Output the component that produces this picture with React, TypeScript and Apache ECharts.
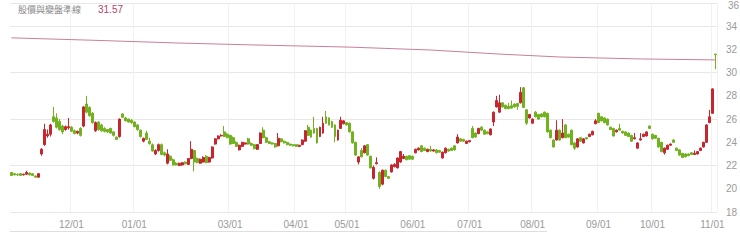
import React, { useEffect, useRef } from "react";
import * as echarts from "echarts";

// trading days per month (year-month, day numbers)
const monthDays: [string, number[]][] = [
  ["2022-11", [3, 4, 7, 8, 9, 10, 11, 14, 15, 16, 17, 18, 21, 22, 23, 24, 25, 28, 29, 30]],
  ["2022-12", [1, 2, 5, 6, 7, 8, 9, 12, 13, 14, 15, 16, 19, 20, 21, 22, 23, 26, 27, 28, 29]],
  ["2023-01", [3, 4, 5, 6, 9, 10, 11, 12, 13, 16, 17, 18, 30, 31]],
  ["2023-02", [1, 2, 3, 6, 7, 8, 9, 10, 13, 14, 15, 16, 17, 20, 21, 22, 23, 24]],
  ["2023-03", [1, 2, 3, 6, 7, 8, 9, 10, 13, 14, 15, 16, 17, 20, 21, 22, 23, 24, 27, 28, 29, 30]],
  ["2023-04", [6, 7, 10, 11, 12, 13, 14, 17, 18, 19, 20, 21, 24, 25, 26, 27, 28]],
  ["2023-05", [2, 3, 4, 5, 8, 9, 10, 11, 12, 15, 16, 17, 18, 19, 22, 23, 24, 25, 26, 29, 30, 31]],
  ["2023-06", [1, 2, 5, 6, 7, 8, 9, 12, 13, 14, 15, 16, 19, 20, 21, 26, 27, 28, 29]],
  ["2023-07", [3, 4, 5, 6, 7, 10, 11, 12, 13, 14, 17, 18, 19, 20, 21, 24, 25, 26, 27, 28, 31]],
  ["2023-08", [1, 2, 4, 7, 8, 9, 10, 11, 14, 15, 16, 17, 18, 21, 22, 23, 24, 25, 28, 29, 30, 31]],
  ["2023-09", [1, 4, 5, 6, 7, 8, 11, 12, 13, 14, 15, 18, 19, 20, 21, 22, 25, 26]],
  ["2023-10", [2, 3, 4, 5, 6, 11, 12, 13, 16, 17, 18, 19, 20, 23, 24, 25, 26, 27, 30, 31]],
  ["2023-11", [1, 2]],
];

const categories: string[] = [];
monthDays.forEach(([ym, days]) =>
  days.forEach((d) => categories.push(`${ym}-${String(d).padStart(2, "0")}`))
);

// [open, close, low, high]
const priceCandles: number[][] = [
  [21.4, 21.15, 21.1, 21.45], [21.3, 21.2, 21.15, 21.35], [21.25, 21.2, 21.1, 21.3], [21.3, 21.15, 21.1, 21.35],
  [21.2, 21.25, 21.15, 21.3], [21.25, 21.4, 21.2, 21.55], [21.35, 21.2, 21.15, 21.4], [21.3, 21.15, 21.1, 21.3],
  [21.1, 21.0, 20.95, 21.15], [21.0, 21.3, 20.95, 21.35], [23.0, 23.4, 22.85, 23.5], [23.8, 25.1, 23.7, 25.6],
  [24.55, 24.7, 24.4, 25.1], [24.7, 25.5, 24.5, 25.6], [26.2, 25.8, 25.7, 27.05], [26.1, 25.3, 25.2, 26.5],
  [25.8, 25.1, 25.0, 26.0], [25.4, 24.9, 24.7, 25.5], [25.1, 25.35, 25.0, 25.45], [25.25, 25.35, 25.1, 26.1],
  [25.3, 24.95, 24.9, 25.4], [25.0, 24.75, 24.7, 25.1], [24.8, 24.95, 24.7, 25.0], [25.2, 24.6, 24.5, 25.3],
  [25.4, 27.05, 25.3, 27.1], [27.3, 26.6, 26.5, 28.0], [27.0, 26.3, 26.2, 27.1], [26.5, 25.7, 25.6, 26.6],
  [25.0, 25.7, 24.9, 25.8], [25.75, 25.1, 25.0, 25.8], [25.5, 25.0, 24.9, 25.6], [25.2, 24.95, 24.85, 25.3],
  [25.1, 24.9, 24.8, 25.15], [25.2, 24.8, 24.75, 25.25], [24.9, 24.6, 24.5, 24.95], [24.45, 24.25, 24.2, 24.5],
  [24.5, 26.0, 24.4, 26.05], [26.45, 26.15, 26.1, 26.5], [26.1, 25.85, 25.8, 26.2], [26.0, 25.75, 25.7, 26.05],
  [25.9, 25.7, 25.6, 26.0], [25.75, 25.35, 25.3, 25.8], [25.5, 25.1, 25.0, 25.55], [25.05, 24.5, 24.4, 25.1],
  [24.1, 24.35, 24.0, 24.4], [24.8, 24.25, 24.2, 25.0], [24.1, 23.9, 23.8, 24.4], [23.8, 23.25, 23.2, 23.9],
  [23.0, 23.3, 22.9, 23.4], [23.3, 23.8, 23.2, 23.9], [23.8, 22.95, 22.9, 23.9], [23.1, 22.9, 22.8, 23.2],
  [22.2, 23.0, 22.1, 23.4], [22.8, 22.45, 22.4, 22.9], [22.5, 22.05, 22.0, 22.6], [22.2, 22.05, 22.0, 22.3],
  [22.0, 22.2, 21.95, 22.25], [22.05, 22.25, 22.0, 22.3], [22.3, 22.15, 22.1, 22.35], [22.1, 22.6, 22.05, 22.65],
  [22.6, 23.4, 22.55, 24.1], [23.3, 22.3, 21.5, 23.35], [22.6, 22.25, 22.2, 22.7], [22.2, 22.55, 22.15, 22.6],
  [22.3, 22.7, 22.25, 22.8], [22.8, 22.25, 22.2, 22.9], [22.3, 22.7, 22.25, 22.75], [22.65, 23.6, 22.6, 23.65],
  [23.85, 24.3, 23.8, 24.35], [24.3, 24.55, 24.25, 24.6], [24.55, 24.6, 24.5, 24.7], [24.9, 24.5, 24.45, 25.4],
  [24.7, 24.4, 24.35, 24.8], [24.6, 23.85, 23.8, 24.65], [24.4, 23.9, 23.85, 24.5], [24.0, 23.65, 23.6, 24.1],
  [23.35, 23.75, 23.3, 23.8], [23.65, 24.0, 23.6, 24.05], [23.85, 23.95, 23.8, 24.0], [24.3, 23.85, 23.8, 24.4],
  [23.9, 23.75, 23.7, 24.0], [23.8, 23.45, 23.4, 23.85], [23.4, 23.8, 23.35, 23.85], [23.9, 24.8, 23.85, 24.85],
  [25.05, 24.4, 24.35, 25.3], [24.4, 24.0, 23.95, 24.5], [24.05, 23.9, 23.85, 24.1], [23.95, 23.85, 23.8, 24.0],
  [23.9, 23.6, 23.55, 23.95], [23.7, 24.35, 23.65, 24.8], [24.3, 24.05, 24.0, 24.35], [24.1, 23.95, 23.9, 24.15],
  [24.0, 23.8, 23.75, 24.05], [23.85, 23.75, 23.7, 23.9], [23.8, 23.7, 23.65, 23.85], [23.8, 23.65, 23.6, 23.85],
  [23.65, 23.75, 23.6, 23.8], [23.8, 24.2, 23.75, 24.25], [24.1, 25.0, 24.05, 25.05], [25.3, 24.6, 24.55, 25.5],
  [25.05, 24.45, 24.4, 25.1], [25.2, 24.8, 24.75, 26.2], [25.2, 23.95, 23.9, 25.25], [24.5, 25.3, 24.45, 25.35],
  [24.8, 25.65, 24.75, 26.2], [26.2, 25.65, 25.6, 26.7], [26.1, 25.5, 25.45, 26.15], [25.8, 25.3, 25.25, 25.85],
  [25.5, 24.5, 24.0, 25.55], [24.2, 25.05, 24.15, 25.1], [25.2, 25.9, 25.15, 26.2], [25.6, 25.85, 25.55, 25.9],
  [25.7, 25.5, 25.45, 25.75], [25.65, 24.9, 24.85, 25.7], [24.9, 23.95, 23.9, 24.95], [24.0, 22.9, 22.85, 24.05],
  [22.3, 22.75, 22.1, 22.8], [23.3, 22.75, 22.7, 23.5], [23.1, 23.7, 23.05, 23.75], [23.8, 22.9, 22.85, 23.85],
  [22.8, 21.8, 21.75, 22.85], [20.9, 21.85, 20.8, 22.0], [22.15, 22.25, 22.1, 22.7], [21.4, 20.2, 20.0, 21.5],
  [20.4, 21.6, 20.3, 21.65], [21.6, 21.05, 21.0, 21.65], [21.05, 20.9, 20.85, 21.1], [21.45, 22.05, 21.4, 22.1],
  [21.9, 22.1, 21.85, 22.2], [21.8, 22.65, 21.75, 22.7], [22.3, 23.2, 22.25, 23.25], [22.6, 22.8, 22.55, 23.0],
  [22.8, 22.5, 22.45, 22.85], [22.85, 22.55, 22.5, 22.9], [22.8, 22.55, 22.5, 22.85], [23.1, 23.4, 23.05, 23.45],
  [23.35, 23.5, 23.3, 23.55], [23.7, 23.2, 23.15, 23.75], [23.5, 23.3, 23.25, 23.55], [23.2, 23.4, 23.15, 23.45],
  [23.4, 23.25, 23.2, 23.7], [23.25, 23.35, 23.2, 23.4], [23.35, 23.1, 23.05, 23.4], [23.3, 23.15, 23.1, 23.35],
  [22.65, 23.15, 22.6, 23.2], [23.1, 23.5, 23.05, 23.55], [23.4, 23.25, 23.2, 23.45], [23.5, 23.3, 23.25, 23.55],
  [23.7, 23.35, 23.3, 23.75], [23.95, 24.45, 23.9, 24.7], [24.3, 24.1, 24.05, 24.35], [24.25, 24.1, 24.05, 24.3],
  [23.9, 24.1, 23.85, 24.15], [24.05, 24.15, 24.0, 24.2], [25.2, 24.4, 24.35, 25.4], [24.8, 24.45, 24.4, 24.85],
  [24.75, 25.2, 24.7, 25.25], [25.3, 25.05, 25.0, 25.4], [25.05, 24.7, 24.65, 25.1], [24.9, 24.75, 24.7, 24.95],
  [24.65, 25.15, 24.6, 25.2], [25.75, 26.6, 25.4, 26.65], [27.05, 27.6, 27.0, 28.0], [26.6, 27.4, 26.55, 28.1],
  [27.4, 27.05, 27.0, 27.45], [27.2, 26.9, 26.85, 27.25], [27.1, 26.9, 26.85, 27.4], [27.15, 26.95, 26.9, 27.6],
  [27.3, 27.05, 27.0, 27.35], [27.35, 27.1, 26.8, 27.4], [27.4, 28.3, 27.35, 28.75], [28.7, 27.0, 26.95, 28.75],
  [26.8, 25.65, 25.5, 26.85], [26.1, 26.4, 26.05, 26.45], [25.65, 26.0, 25.6, 26.05], [26.6, 26.2, 26.15, 26.7],
  [26.4, 26.0, 25.95, 26.45], [26.45, 26.2, 26.15, 26.5], [26.6, 26.2, 26.15, 26.65], [26.5, 24.9, 24.85, 26.55],
  [25.05, 24.4, 24.35, 25.1], [24.2, 23.6, 23.55, 24.25], [24.2, 25.05, 24.15, 25.9], [25.05, 24.2, 24.15, 25.1],
  [24.4, 24.8, 24.35, 26.0], [25.5, 24.4, 24.35, 25.55], [24.7, 24.45, 24.4, 24.75], [25.05, 23.8, 23.75, 25.1],
  [23.95, 23.5, 23.35, 24.0], [23.6, 24.3, 23.55, 24.35], [24.4, 24.1, 24.05, 24.45], [23.95, 24.3, 23.9, 24.35],
  [24.4, 24.3, 24.25, 24.45], [24.5, 24.7, 24.45, 24.75], [24.65, 24.95, 24.6, 25.0], [25.6, 25.85, 25.55, 26.0],
  [26.5, 25.7, 25.65, 26.55], [26.2, 25.85, 25.8, 26.25], [26.1, 25.7, 25.65, 26.15], [26.0, 25.5, 25.45, 26.05],
  [25.3, 25.1, 25.05, 25.35], [25.2, 24.55, 24.5, 25.25], [24.9, 25.05, 24.85, 25.1], [25.2, 25.05, 25.0, 25.6],
  [24.95, 24.8, 24.75, 25.0], [24.9, 24.6, 24.55, 24.95], [24.8, 24.5, 24.45, 24.85], [24.6, 24.1, 24.05, 24.65],
  [24.3, 24.4, 24.25, 24.8], [23.5, 23.95, 23.45, 24.0], [24.2, 24.3, 24.15, 24.8], [24.5, 24.7, 24.45, 24.75],
  [24.55, 24.9, 24.5, 24.95], [25.4, 25.2, 25.15, 25.45], [24.7, 24.3, 24.25, 24.75], [24.6, 24.35, 24.3, 24.65],
  [24.35, 23.6, 23.55, 24.4], [24.0, 23.2, 23.15, 24.05], [23.1, 23.5, 22.95, 23.55], [23.4, 23.75, 23.35, 23.8],
  [23.75, 23.85, 23.7, 23.9], [24.2, 24.0, 23.95, 24.25], [23.5, 23.3, 23.25, 23.55], [23.35, 22.9, 22.85, 23.4],
  [23.05, 22.7, 22.65, 23.1], [23.0, 22.75, 22.7, 23.05], [23.0, 22.85, 22.8, 23.05], [23.1, 22.95, 22.9, 23.15],
  [22.95, 23.05, 22.9, 23.3], [23.0, 23.2, 22.95, 23.25], [23.3, 23.5, 23.25, 23.55], [23.6, 24.0, 23.55, 24.05],
  [24.0, 25.5, 23.95, 25.55], [25.7, 26.2, 25.65, 26.8], [26.5, 28.6, 26.45, 28.65],
];

// trend line points: [category index, value]
const trendPoints: [number, number][] = [
  [0, 33.0], [26, 32.8], [56, 32.55], [79, 32.4], [113, 32.2], [140, 31.95],
  [163, 31.6], [183, 31.35], [210, 31.18], [235, 31.1],
];

// last mark of the trend series: [category index, open, close, low, high]
const trendMark: number[][] = [[235, 31.6, 31.55, 30.3, 31.6]];

const titleText = "股價與變盤準線";
const titleValue = "31.57";

const yTicks = { min: 18, max: 36, labelStep: 2, lineStep: 4 };

const RED = "#c6262e";
const GREEN = "#72b11f";

export default function App() {
  const ref = useRef<HTMLDivElement>(null);

  useEffect(() => {
    document.body.style.margin = "0";
    if (!ref.current) return;
    const chart = echarts.init(ref.current, undefined, { renderer: "svg" });

    const monthStart = new Set<number>();
    let prev = categories[0].slice(0, 7);
    categories.forEach((c, i) => {
      const m = c.slice(0, 7);
      if (m !== prev) {
        if (c.slice(5, 7) !== "02") monthStart.add(i);
        prev = m;
      }
    });

    const font = "'Liberation Sans', Arial, 'Noto Sans CJK TC', sans-serif";

    chart.setOption({
      animation: false,
      grid: { left: 10, right: 21, top: 3, bottom: 30, containLabel: false },
      xAxis: {
        type: "category",
        data: categories,
        boundaryGap: true,
        axisLine: { show: false },
        axisTick: { show: false },
        axisLabel: {
          interval: (i: number) => monthStart.has(i),
          formatter: (v: string) => `${v.slice(5, 7)}/01`,
          color: "#9a9a9a",
          fontSize: 10,
          fontFamily: font,
          margin: 7,
        },
        splitLine: {
          show: true,
          interval: (i: number) => monthStart.has(i),
          lineStyle: { color: "#f1f1f1", width: 1 },
        },
      },
      yAxis: [
        {
          type: "value",
          position: "right",
          min: yTicks.min,
          max: yTicks.max,
          interval: yTicks.labelStep,
          axisLine: { show: false },
          axisTick: { show: false },
          splitLine: { show: false },
          axisLabel: {
            color: "#9a9a9a",
            fontSize: 10,
            fontFamily: font,
            margin: 9,
            showMaxLabel: false,
          },
        },
        {
          type: "value",
          position: "right",
          min: yTicks.min,
          max: yTicks.max,
          interval: yTicks.lineStep,
          axisLine: { show: false },
          axisTick: { show: false },
          axisLabel: { show: false },
          splitLine: { show: true, lineStyle: { color: "#e8e8e8", width: 1 } },
        },
      ],
      graphic: [
        {
          type: "text",
          x: 18,
          y: 5,
          style: { text: titleText, fill: "#8a8a8a", font: `9px ${font}` },
        },
        {
          type: "text",
          x: 98,
          y: 4,
          style: { text: titleValue, fill: "#b0456d", font: `10px ${font}` },
        },
        {
          type: "text",
          x: 728,
          y: 0,
          style: { text: String(yTicks.max), fill: "#9a9a9a", font: `10px ${font}` },
        },
        {
          type: "line",
          shape: { x1: 10, y1: 231.5, x2: 547, y2: 231.5 },
          style: { stroke: "#dedede", lineWidth: 1 },
        },
      ],
      series: [
        {
          type: "candlestick",
          name: "股價",
          data: priceCandles,
          barWidth: "82%",
          itemStyle: {
            color: RED,
            color0: GREEN,
            borderColor: RED,
            borderColor0: GREEN,
            borderWidth: 1,
          },
        },
        {
          type: "line",
          name: titleText,
          data: trendPoints.map(([i, v]) => [categories[i], v]),
          symbol: "none",
          lineStyle: { color: "#c97e9b", width: 1 },
          z: 3,
        },
        {
          type: "candlestick",
          name: "變盤",
          data: trendMark,
          encode: { x: 0, y: [1, 2, 3, 4] },
          barWidth: "82%",
          itemStyle: {
            color: RED,
            color0: GREEN,
            borderColor: RED,
            borderColor0: GREEN,
            borderWidth: 1,
          },
        },
      ],
    });

    return () => chart.dispose();
  }, []);

  return <div ref={ref} style={{ width: 740, height: 242 }} />;
}
